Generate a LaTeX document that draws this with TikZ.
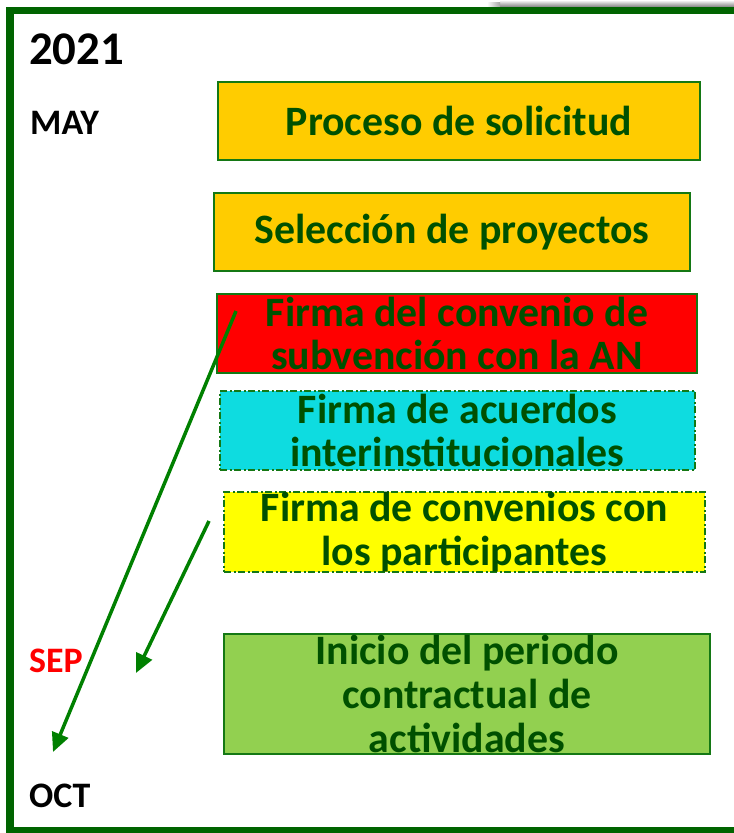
\documentclass[tikz,border=0pt]{standalone}
\usepackage{fontspec}
\setmainfont{Carlito}
\usetikzlibrary{arrows.meta}
\definecolor{txtgreen}{RGB}{0,80,0}
\definecolor{framegreen}{RGB}{0,100,0}
\definecolor{arrgreen}{RGB}{0,128,0}
\definecolor{boxline}{RGB}{20,120,20}
\definecolor{gold}{RGB}{255,204,0}
\definecolor{redbox}{RGB}{255,0,0}
\definecolor{cyanbox}{RGB}{14,220,224}
\definecolor{yelbox}{RGB}{255,255,0}
\definecolor{lgreen}{RGB}{146,208,80}
\tikzset{
  stagebox/.style={draw=boxline, line width=1.5bp, inner sep=0pt, align=center,
    text=txtgreen, font=\fontsize{42}{44}\selectfont\bfseries},
  dashdotbox/.style={stagebox, dash pattern=on 7bp off 2.5bp on 2bp off 2.5bp},
  monthlbl/.style={anchor=west, inner sep=0pt, font=\fontsize{36}{38}\selectfont\bfseries},
  flowarrow/.style={draw=arrgreen, line width=3.5bp, -{Triangle[length=19bp,width=17bp]}},
}
\begin{document}
\begin{tikzpicture}[x=1bp,y=-1bp]
\useasboundingbox (0,0) rectangle (734,833);
\clip (0,0) rectangle (734,833);
% shadow at top right
\shade[top color=white, bottom color=black!50] (500,0) rectangle (734,7);
\shade[left color=white, right color=black!35] (487,2) rectangle (500,7);
% frame
\draw[framegreen, line width=7.5bp] (760,10.5) -- (10,10.5) -- (10,831) -- (760,831);
% labels
\node[monthlbl, font=\fontsize{47}{49}\selectfont\bfseries] (year) at (29,49.5) {2021};
\node[monthlbl] (may) at (30,123) {MAY};
\node[monthlbl, text=red] (sep) at (29,661) {SEP};
\node[monthlbl] (oct) at (29,796) {OCT};
% boxes
\node[stagebox, fill=gold, minimum width=482bp, minimum height=78bp] (b1) at (459,121) {Proceso de solicitud};
\node[stagebox, fill=gold, minimum width=476bp, minimum height=78bp] (b2) at (452,232) {Selección de proyectos};
\node[stagebox, fill=redbox, minimum width=480bp, minimum height=79bp] (b3) at (457,333.5) {Firma del convenio de\\subvención con la AN};
\node[dashdotbox, fill=cyanbox, minimum width=475bp, minimum height=79bp] (b4) at (457.5,430.5) {Firma de acuerdos\\interinstitucionales};
\node[dashdotbox, fill=yelbox, minimum width=481bp, minimum height=80bp] (b5) at (464.5,532) {Firma de convenios con\\los participantes};
\node[stagebox, fill=lgreen, minimum width=486bp, minimum height=120bp] (b6) at (467,694) {Inicio del periodo\\contractual de\\actividades};
% arrows
\coordinate (s1) at (236,311);
\coordinate (e1) at (53,752);
\coordinate (s2) at (209,521);
\coordinate (e2) at (136,673);
\draw[flowarrow] (s1) -- (e1);
\draw[flowarrow] (s2) -- (e2);
\end{tikzpicture}
\end{document}
